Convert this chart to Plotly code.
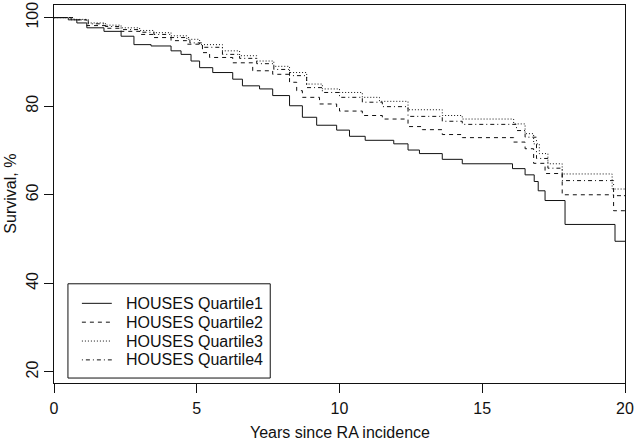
import plotly.graph_objects as go

# Kaplan-Meier style step data
q1_t = [0, 0.5, 0.8, 1.15, 1.75, 2.35, 2.8, 3.4, 4.1, 4.45, 4.8, 5.1, 5.56, 6.26, 6.6, 7.2,
        7.66, 8.25, 8.7, 9.2, 9.9, 10.35, 10.9, 11.9, 12.4, 12.8, 13.6, 14.3, 16.06, 16.5,
        16.82, 16.96, 17.2, 17.9, 19.65, 20]
q1_s = [100, 99.5, 98.8, 97.7, 96.9, 95.8, 93.9, 93.6, 92.5, 91.7, 90.2, 88.7, 87.6, 86.1, 84.6, 83.9,
        82.4, 80.1, 77.5, 75.7, 74.6, 73.2, 72.3, 71.5, 70.1, 69.3, 68.0, 67.0, 65.9, 64.5,
        63.0, 60.9, 58.7, 53.3, 49.5, 49.5]

q2_t = [0, 0.6, 1.15, 1.8, 2.35, 3.0, 3.5, 4.1, 4.65, 5.2, 5.45, 6.26, 6.96, 7.66, 8.25, 8.5,
        8.7, 9.3, 9.9, 10.0, 10.8, 11.5, 12.4, 12.9, 13.6, 14.3, 16.1, 16.5, 16.8, 17.2, 17.8,
        19.6, 20]
q2_s = [100, 99.5, 98.2, 97.6, 96.9, 96.2, 95.5, 94.8, 94.0, 92.1, 91.0, 89.8, 88.0, 87.2, 85.4, 83.5,
        82.0, 80.5, 79.8, 78.9, 77.9, 77.1, 75.4, 74.7, 73.6, 72.9, 71.9, 70.4, 67.1, 64.8, 60.0,
        56.4, 56.4]

q3_t = [0, 0.7, 1.2, 1.8, 2.35, 3.0, 3.5, 4.1, 4.65, 5.1, 5.9, 6.5, 7.1, 7.7, 8.25, 8.85,
        9.4, 10.0, 10.8, 11.4, 12.4, 13.6, 14.3, 16.1, 16.5, 16.8, 17.0, 17.3, 17.8, 19.55, 20]
q3_s = [100, 99.6, 98.8, 98.3, 97.7, 97.1, 96.6, 95.9, 95.1, 93.9, 92.5, 91.4, 90.2, 89.0, 87.6, 85.0,
        83.9, 83.1, 82.0, 81.1, 79.2, 77.9, 77.1, 76.0, 73.8, 71.5, 69.3, 67.0, 64.7, 61.3, 61.3]

q4_t = [0, 0.7, 1.2, 1.8, 2.35, 3.0, 3.5, 4.1, 4.76, 5.2, 5.9, 6.5, 7.1, 7.7, 8.25, 8.85,
        9.4, 10.0, 10.8, 11.5, 12.4, 13.6, 14.3, 16.2, 16.5, 16.9, 17.3, 17.8, 19.6, 20]
q4_s = [100, 99.5, 98.6, 98.0, 97.3, 96.7, 96.2, 95.5, 94.3, 93.3, 91.7, 90.8, 89.6, 88.3, 86.9, 84.2,
        83.1, 82.0, 80.9, 79.9, 77.7, 76.6, 75.9, 74.5, 73.0, 68.2, 66.0, 63.2, 59.8, 59.8]

names = ["HOUSES Quartile1", "HOUSES Quartile2", "HOUSES Quartile3", "HOUSES Quartile4"]
x_ticks = [0, 5, 10, 15, 20]
y_ticks = [20, 40, 60, 80, 100]

series = [(q1_t, q1_s), (q2_t, q2_s), (q3_t, q3_s), (q4_t, q4_s)]
dashes = ["solid", "4px,4px", "1px,2px", "1px,3px,4px,3px"]

FONT = "Liberation Sans, Arial, Helvetica, sans-serif"
INK = "#111111"

W, H = 636, 440
ML, MR, MT, MB = 54, 9, 2, 57
PW, PH = W - ML - MR, H - MT - MB


def px_x(px):
    return (px - ML) / PW


def px_y(py):
    return (H - MB - py) / PH


fig = go.Figure()
for (t, s), name, d in zip(series, names, dashes):
    fig.add_trace(go.Scatter(
        x=t, y=s, mode="lines", name=name, showlegend=False,
        line=dict(color=INK, width=1, dash=d, shape="hv"),
    ))

# Manual legend (box, sample lines, labels)
shapes = [dict(type="rect", xref="paper", yref="paper",
               x0=px_x(68), x1=px_x(271), y0=px_y(378), y1=px_y(283),
               line=dict(color=INK, width=1), fillcolor="white", layer="above")]
annotations = []
for i, (name, d) in enumerate(zip(names, dashes)):
    yy = 302.7 + 19 * i
    shapes.append(dict(type="line", xref="paper", yref="paper",
                       x0=px_x(82), x1=px_x(112), y0=px_y(yy), y1=px_y(yy),
                       line=dict(color=INK, width=1, dash=d), layer="above"))
    annotations.append(dict(text=name, xref="paper", yref="paper",
                            x=px_x(124), y=px_y(yy), xanchor="left", yanchor="middle",
                            showarrow=False,
                            font=dict(family=FONT, size=16, color=INK)))

# Axis titles
annotations.append(dict(text="Years since RA incidence", xref="paper", yref="paper",
                        x=px_x(341), y=px_y(433), xanchor="center", yanchor="middle",
                        showarrow=False, font=dict(family=FONT, size=16, color=INK)))
annotations.append(dict(text="Survival, %", xref="paper", yref="paper",
                        x=px_x(10), y=px_y(192), xanchor="center", yanchor="middle",
                        textangle=-90, showarrow=False,
                        font=dict(family=FONT, size=16, color=INK)))

fig.update_layout(
    width=W, height=H,
    margin=dict(l=ML, r=MR, t=MT, b=MB),
    paper_bgcolor="white", plot_bgcolor="white",
    font=dict(family=FONT, size=16, color=INK),
    showlegend=False,
    shapes=shapes,
    annotations=annotations,
)

fig.update_xaxes(
    range=[0, 20], tickvals=x_ticks, ticktext=[str(v) for v in x_ticks],
    showline=True, linecolor=INK, linewidth=1, mirror=True,
    ticks="outside", ticklen=9, tickcolor=INK, tickwidth=1,
    ticklabelstandoff=2, ticklabeloverflow="allow",
    showgrid=False, zeroline=False,
)
fig.update_yaxes(
    range=[17.5, 102.85], tickvals=y_ticks, ticktext=[str(v) for v in y_ticks],
    showline=True, linecolor=INK, linewidth=1, mirror=True,
    ticks="outside", ticklen=9, tickcolor=INK, tickwidth=1,
    tickangle=-90, ticklabelstandoff=0, ticklabeloverflow="allow",
    showgrid=False, zeroline=False,
)

fig.write_html(
    "out.html",
    config={"displayModeBar": False, "staticPlot": True},
    post_script="document.body.style.margin='0';document.body.style.padding='0';",
)
